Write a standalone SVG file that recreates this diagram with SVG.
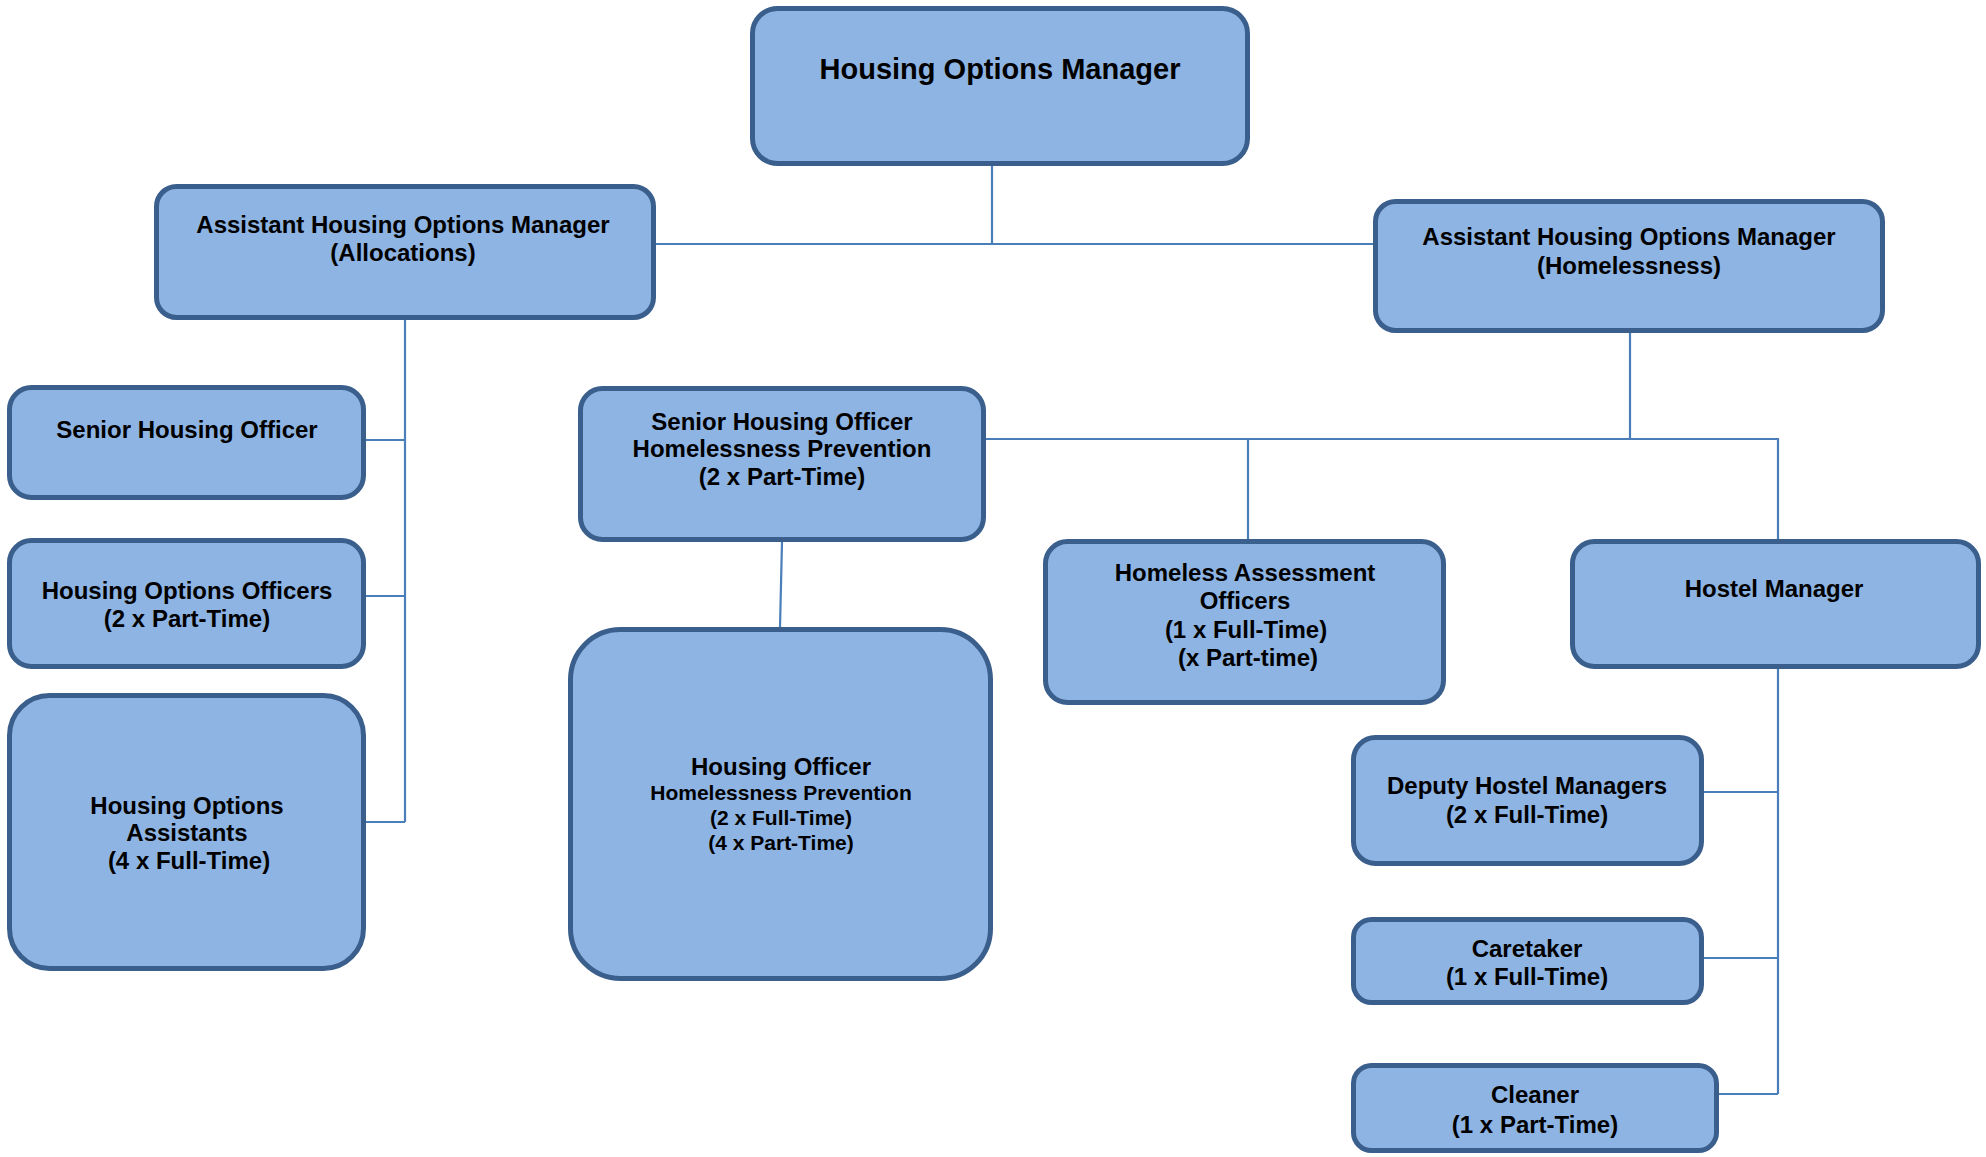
<svg xmlns="http://www.w3.org/2000/svg" width="1986" height="1157" viewBox="0 0 1986 1157">
<style>
.box{fill:#8EB4E3;stroke:#3B5F8C;stroke-width:5}
.t{font-family:"Liberation Sans",Arial,sans-serif;font-weight:bold;font-size:24px;fill:#000;text-anchor:middle}
.s{font-size:21px}
.big{font-size:29px}
.c{fill:none;stroke:#4A7EBB;stroke-width:2.2}
</style>
<rect width="1986" height="1157" fill="#fff"/>
<g id="connectors">
<path class="c" d="M992 166V244M656 244H1373"/>
<path class="c" d="M405 320V822M366 440H405M366 596H405M366 822H405"/>
<path class="c" d="M1630 333V439M986 439H1778V539M1248 439V539"/>
<path class="c" d="M782 542L780 627"/>
<path class="c" d="M1778 669V1094M1704 792H1778M1704 958H1778M1719 1094H1778"/>
</g>
<g id="n-manager"><rect class="box" x="752.5" y="8.5" width="495" height="155" rx="25"/><text class="t big" x="1000" y="79">Housing Options Manager</text></g>
<g id="n-alloc"><rect class="box" x="156.5" y="186.5" width="497" height="131" rx="20"/><text class="t" x="403" y="233">Assistant Housing Options Manager</text><text class="t" x="403" y="261">(Allocations)</text></g>
<g id="n-homeless"><rect class="box" x="1375.5" y="201.5" width="507" height="129" rx="20"/><text class="t" x="1629" y="245">Assistant Housing Options Manager</text><text class="t" x="1629" y="274">(Homelessness)</text></g>
<g id="n-sho"><rect class="box" x="9.5" y="387.5" width="354" height="110" rx="22"/><text class="t" x="187" y="438">Senior Housing Officer</text></g>
<g id="n-hoo"><rect class="box" x="9.5" y="540.5" width="354" height="126" rx="22"/><text class="t" x="187" y="599">Housing Options Officers</text><text class="t" x="187" y="627">(2 x Part-Time)</text></g>
<g id="n-hoa"><rect class="box" x="9.5" y="695.5" width="354" height="273" rx="40"/><text class="t" x="187" y="814">Housing Options</text><text class="t" x="187" y="841">Assistants</text><text class="t" x="189" y="869">(4 x Full-Time)</text></g>
<g id="n-shohp"><rect class="box" x="580.5" y="388.5" width="403" height="151" rx="22"/><text class="t" x="782" y="430">Senior Housing Officer</text><text class="t" x="782" y="457">Homelessness Prevention</text><text class="t" x="782" y="485">(2 x Part-Time)</text></g>
<g id="n-hohp"><rect class="box" x="570.5" y="629.5" width="420" height="349" rx="50"/><text class="t" x="781" y="775">Housing Officer</text><text class="t s" x="781" y="800">Homelessness Prevention</text><text class="t s" x="781" y="825">(2 x Full-Time)</text><text class="t s" x="781" y="850">(4 x Part-Time)</text></g>
<g id="n-hao"><rect class="box" x="1045.5" y="541.5" width="398" height="161" rx="22"/><text class="t" x="1245" y="581">Homeless Assessment</text><text class="t" x="1245" y="609">Officers</text><text class="t" x="1246" y="638">(1 x Full-Time)</text><text class="t" x="1248" y="666">(x Part-time)</text></g>
<g id="n-hostel"><rect class="box" x="1572.5" y="541.5" width="406" height="125" rx="22"/><text class="t" x="1774" y="597">Hostel Manager</text></g>
<g id="n-deputy"><rect class="box" x="1353.5" y="737.5" width="348" height="126" rx="22"/><text class="t" x="1527" y="794">Deputy Hostel Managers</text><text class="t" x="1527" y="823">(2 x Full-Time)</text></g>
<g id="n-caretaker"><rect class="box" x="1353.5" y="919.5" width="348" height="83" rx="18"/><text class="t" x="1527" y="957">Caretaker</text><text class="t" x="1527" y="985">(1 x Full-Time)</text></g>
<g id="n-cleaner"><rect class="box" x="1353.5" y="1065.5" width="363" height="85" rx="18"/><text class="t" x="1535" y="1103">Cleaner</text><text class="t" x="1535" y="1133">(1 x Part-Time)</text></g>
</svg>
